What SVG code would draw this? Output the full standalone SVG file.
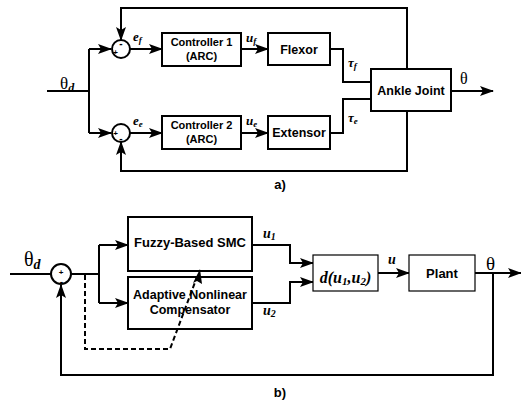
<svg xmlns="http://www.w3.org/2000/svg" width="521" height="403" viewBox="0 0 521 403">
<style>
.ln{fill:none;stroke:#000;stroke-width:2}
.box{fill:#fff;stroke:#000;stroke-width:2}
.tbox{fill:#fff;stroke:#000;stroke-width:1.2}
.sum{fill:#fff;stroke:#000;stroke-width:2}
.lbl{font-family:"Liberation Sans",Arial,sans-serif;font-weight:bold;fill:#000;text-anchor:middle}
.it{font-family:"Liberation Serif","Times New Roman",serif;font-style:italic;font-weight:bold;fill:#000}
.sr{font-family:"Liberation Serif","Times New Roman",serif;fill:#000}
.sg{font-family:"Liberation Sans",Arial,sans-serif;font-weight:bold;fill:#000;text-anchor:middle}
.dash{fill:none;stroke:#000;stroke-width:2;stroke-dasharray:5,3}
</style>
<defs>
<marker id="ah" markerUnits="userSpaceOnUse" markerWidth="14" markerHeight="10" refX="13" refY="5" orient="auto">
<path d="M0,0 L14,5 L0,10 L3,5 Z" fill="#000"/>
</marker>
</defs>

<g id="connectors">
<!-- a) -->
<path class="ln" d="M47,91 H89 M89,49 V133"/>
<path class="ln" d="M89,49 H111" marker-end="url(#ah)"/>
<path class="ln" d="M89,133 H111" marker-end="url(#ah)"/>
<path class="ln" d="M130,49 H162" marker-end="url(#ah)"/>
<path class="ln" d="M130,133 H162" marker-end="url(#ah)"/>
<path class="ln" d="M241,49 H268" marker-end="url(#ah)"/>
<path class="ln" d="M241,133 H268" marker-end="url(#ah)"/>
<path class="ln" d="M330,49 H343 V82 H371"/>
<path class="ln" d="M330,133 H343 V99 H371"/>
<path class="ln" d="M451,91 H493" marker-end="url(#ah)"/>
<path class="ln" d="M407,69 V8 H121 V40" marker-end="url(#ah)"/>
<path class="ln" d="M407,111 V171 H121 V142" marker-end="url(#ah)"/>
<!-- b) -->
<path class="ln" d="M10,274 H51"/>
<path class="ln" d="M71,274 H99 M99,245 V303"/>
<path class="ln" d="M99,245 H128" marker-end="url(#ah)"/>
<path class="ln" d="M99,303 H128" marker-end="url(#ah)"/>
<path class="ln" d="M252,245 H290 V263 H313" marker-end="url(#ah)"/>
<path class="ln" d="M252,303 H290 V282 H313" marker-end="url(#ah)"/>
<path class="ln" d="M378,273 H409" marker-end="url(#ah)"/>
<path class="ln" d="M475,273 H521" marker-end="url(#ah)"/>
<path class="ln" d="M493,273 V375 H61 V285" marker-end="url(#ah)"/>
</g>

<g id="sum1">
<circle class="sum" cx="121" cy="49" r="9"/>
<text class="sg" x="121" y="47" font-size="10">-</text>
<text class="sg" x="115.5" y="55" font-size="8">+</text>
</g>
<g id="sum2">
<circle class="sum" cx="121" cy="133" r="9"/>
<text class="sg" x="115.5" y="136" font-size="8">+</text>
<text class="sg" x="121" y="142" font-size="10">-</text>
</g>
<g id="controller1">
<rect class="box" x="162" y="33" width="79" height="33"/>
<text class="lbl" x="201.5" y="46" font-size="11">Controller 1</text>
<text class="lbl" x="201.5" y="60" font-size="11">(ARC)</text>
</g>
<g id="controller2">
<rect class="box" x="162" y="116" width="79" height="33"/>
<text class="lbl" x="201.5" y="129" font-size="11">Controller 2</text>
<text class="lbl" x="201.5" y="143" font-size="11">(ARC)</text>
</g>
<g id="flexor">
<rect class="box" x="268" y="33" width="62" height="32"/>
<text class="lbl" x="299" y="54" font-size="12.5">Flexor</text>
</g>
<g id="extensor">
<rect class="box" x="268" y="116" width="62" height="33"/>
<text class="lbl" x="299" y="137" font-size="12.5">Extensor</text>
</g>
<g id="ankle">
<rect class="box" x="371" y="69" width="80" height="42"/>
<text class="lbl" x="411" y="95" font-size="12.5">Ankle Joint</text>
</g>
<g id="labels-a">
<text class="sr" x="60" y="89" font-size="17">θ<tspan class="it" font-size="12" dy="3">d</tspan></text>
<text class="it" x="133" y="41" font-size="13">e<tspan font-size="9" dy="2">f</tspan></text>
<text class="it" x="133" y="125" font-size="13">e<tspan font-size="9" dy="2">e</tspan></text>
<text class="it" x="246" y="42" font-size="13">u<tspan font-size="9" dy="2">f</tspan></text>
<text class="it" x="246" y="125" font-size="13">u<tspan font-size="9" dy="2">e</tspan></text>
<text class="it" x="348" y="67" font-size="13">τ<tspan font-size="9" dy="2">f</tspan></text>
<text class="it" x="348" y="122" font-size="13">τ<tspan font-size="9" dy="2">e</tspan></text>
<text class="sr" x="460" y="84" font-size="16">θ</text>
<text class="lbl" x="280" y="189" font-size="13">a)</text>
</g>

<g id="sum3">
<circle class="sum" cx="61" cy="274" r="10"/>
<text class="sg" x="61" y="275" font-size="8">+</text>
<text class="sg" x="61.5" y="285" font-size="10">-</text>
</g>
<g id="fuzzy">
<rect class="box" x="128" y="217" width="124" height="54"/>
<text class="lbl" x="190" y="247" font-size="13">Fuzzy-Based SMC</text>
</g>
<g id="adaptive">
<rect class="box" x="128" y="277" width="124" height="52"/>
<text class="lbl" x="190" y="299" font-size="12.5">Adaptive Nonlinear</text>
<text class="lbl" x="190" y="314" font-size="12.5">Compensator</text>
</g>
<g id="dfun">
<rect class="tbox" x="313" y="255" width="65" height="36"/>
<text class="it" x="345.5" y="283" font-size="16" text-anchor="middle">d(u<tspan font-size="11" dy="2">1</tspan><tspan dy="-2">,u</tspan><tspan font-size="11" dy="2">2</tspan><tspan dy="-2">)</tspan></text>
</g>
<g id="plant">
<rect class="tbox" x="409" y="255" width="66" height="36"/>
<text class="lbl" x="442" y="278" font-size="13">Plant</text>
</g>
<g id="labels-b">
<text class="sr" x="24" y="266" font-size="20">θ<tspan class="it" font-size="14" dy="3">d</tspan></text>
<text class="it" x="263" y="238" font-size="14">u<tspan font-size="10" dy="2">1</tspan></text>
<text class="it" x="263" y="315" font-size="14">u<tspan font-size="10" dy="2">2</tspan></text>
<text class="it" x="388" y="264" font-size="14">u</text>
<text class="sr" x="486" y="270" font-size="19">θ</text>
<text class="lbl" x="280" y="397" font-size="13">b)</text>
</g>

<g id="connectors-adaptation">
<path class="dash" d="M85,275 V349 H170 L197,277"/>
<path d="M200,269 L193,283 L197,281 L202,284 Z" fill="#000"/>
</g>
</svg>
